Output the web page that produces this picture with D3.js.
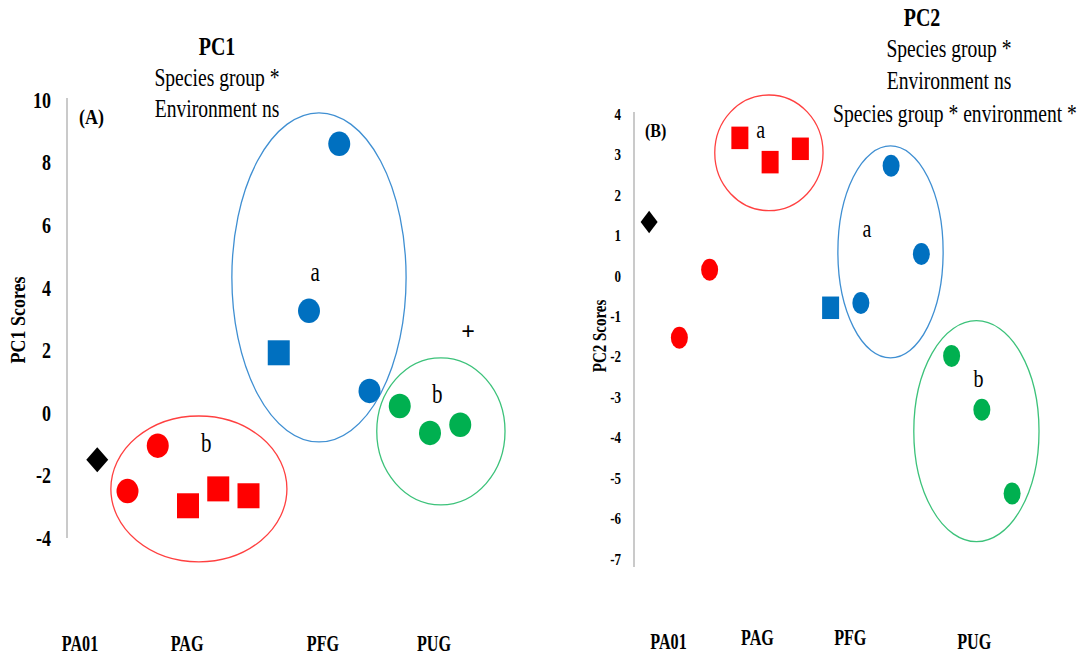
<!DOCTYPE html>
<html>
<head>
<meta charset="utf-8">
<script src="https://cdn.jsdelivr.net/npm/d3@7/dist/d3.min.js"></script>
<style>
  html, body { margin: 0; padding: 0; background: #fff; }
  svg { display: block; }
  text { font-family: "Liberation Serif", "Times New Roman", serif; fill: #000; }
</style>
</head>
<body>
<svg id="chart" width="1078" height="662"></svg>
<script>
// ---------------- data ----------------
const categories = ["PA01", "PAG", "PFG", "PUG"];
const pointIndex = [1, 2, 3, 4, 5, 6, 7, 8, 9, 10, 11, 12, 13];
const pointGroup = ["PA01", "PAG", "PAG", "PAG", "PAG", "PAG", "PFG", "PFG", "PFG", "PFG", "PUG", "PUG", "PUG"];
const pointShape = ["diamond", "circle", "circle", "square", "square", "square", "square", "circle", "circle", "circle", "circle", "circle", "circle"];
const pc1Scores = [-1.5, -2.5, -1.05, -2.97, -2.43, -2.65, 1.92, 3.26, 8.6, 0.7, 0.22, -0.64, -0.38];
const pc2Scores = [1.33, -1.53, 0.15, 3.41, 2.81, 3.14, -0.79, -0.67, 2.72, 0.54, -1.98, -3.31, -5.38];
const pc1Ticks = [10, 8, 6, 4, 2, 0, -2, -4];
const pc2Ticks = [4, 3, 2, 1, 0, -1, -2, -3, -4, -5, -6, -7];
const pc1Title = ["PC1", "Species group *", "Environment ns"];
const pc2Title = ["PC2", "Species group *", "Environment ns", "Species group * environment *"];
// group ellipses (data units): group, cx, cy, rx, ry, letter
const pc1Ellipses = [
  ["PAG", 4.36, -2.43, 2.91, 2.33, "b"],
  ["PFG", 8.33, 4.33, 2.88, 5.26, "a"],
  ["PUG", 12.36, -0.59, 2.12, 2.35, "b"]
];
const pc2Ellipses = [
  ["PAG", 4.96, 3.04, 1.79, 1.43, "a"],
  ["PFG", 8.98, 0.59, 1.74, 2.62, "a"],
  ["PUG", 11.82, -3.84, 2.07, 2.73, "b"]
];
// ---------------- style ----------------
const fillColor = { PA01: "#000000", PAG: "#ff0000", PFG: "#0070c0", PUG: "#00b050" };
const ringColor = { PAG: "#ff4040", PFG: "#3f8fd2", PUG: "#3cc27a" };

const svg = d3.select("#chart");

// text drawn with vertical stretch (the reference's type is tall and narrow)
function stretchText(g, x, y, str, opt) {
  const sx = opt.sx || 1, sy = opt.sy || 1.2;
  const rot = opt.rotate ? ` rotate(${opt.rotate})` : "";
  return g.append("text")
    .attr("transform", `translate(${x},${y})${rot} scale(${sx},${sy})`)
    .attr("text-anchor", opt.anchor || "middle")
    .attr("dy", "0.35em")
    .attr("font-weight", opt.bold ? "bold" : "normal")
    .attr("font-size", opt.size)
    .text(str);
}

function panel(cfg) {
  const x = d3.scaleLinear().domain(cfg.xDomain).range(cfg.xRange);
  const y = d3.scaleLinear().domain(cfg.yDomain).range(cfg.yRange);
  const g = svg.append("g");

  g.append("line")
    .attr("x1", x(cfg.xDomain[0])).attr("x2", x(cfg.xDomain[0]))
    .attr("y1", cfg.axisTop).attr("y2", cfg.axisBottom)
    .attr("stroke", "#bdbdbd").attr("stroke-width", 1.6);

  cfg.ticks.forEach(d => {
    stretchText(g, cfg.tickX, y(d), d, { anchor: "end", bold: true, size: cfg.tickSize, sy: 1.25 });
  });

  stretchText(g, cfg.ylabX, cfg.ylabY, cfg.ylab,
    { bold: true, size: cfg.ylabSize, rotate: -90, sx: 1, sy: 1.2 });

  stretchText(g, cfg.letterX, cfg.letterY, cfg.letter,
    { anchor: "start", bold: true, size: cfg.letterSize, sy: 1.2 });

  cfg.ellipses.forEach(e => {
    g.append("ellipse")
      .attr("cx", x(e[1])).attr("cy", y(e[2]))
      .attr("rx", Math.abs(x(e[1] + e[3]) - x(e[1])))
      .attr("ry", Math.abs(y(e[2] + e[4]) - y(e[2])))
      .attr("fill", "none")
      .attr("stroke", ringColor[e[0]])
      .attr("stroke-width", 1.3);
  });

  const w = cfg.markW, h = cfg.markH;
  pointIndex.forEach((xi, i) => {
    const px = x(xi), py = y(cfg.values[i]);
    const col = fillColor[pointGroup[i]];
    const s = pointShape[i];
    if (s === "circle") {
      g.append("ellipse").attr("cx", px).attr("cy", py)
        .attr("rx", w / 2).attr("ry", h / 2 * 0.98).attr("fill", col);
    } else if (s === "square") {
      g.append("rect").attr("x", px - w / 2).attr("y", py - h / 2)
        .attr("width", w).attr("height", h).attr("fill", col);
    } else {
      g.append("path")
        .attr("d", `M${px},${py - h / 2} L${px + w / 2},${py} L${px},${py + h / 2} L${px - w / 2},${py} Z`)
        .attr("fill", col);
    }
  });

  cfg.ellipses.forEach((e, k) => {
    const p = cfg.letterPos[k];
    stretchText(g, x(p[0]), y(p[1]), e[5], { size: cfg.grpLetterSize, sy: 1.25 });
  });

  cfg.title.forEach((t, k) => {
    stretchText(g, cfg.titleX[k], cfg.titleY[k], t,
      { bold: k === 0, size: k === 0 ? cfg.titleSize0 : cfg.titleSize, sx: k === 0 ? 1 : cfg.titleSx, sy: 1.25 });
  });

  categories.forEach((c, k) => {
    stretchText(g, x(cfg.catX[k]), cfg.catY[k], c,
      { bold: true, size: cfg.catSize, sx: 0.95, sy: 1.3 });
  });
  return { g, x, y };
}

const p1 = panel({
  xDomain: [0, 13], xRange: [67, 460.25],
  yDomain: [-4, 10], yRange: [538, 100],
  axisTop: 98, axisBottom: 538,
  ticks: pc1Ticks, tickX: 51, tickSize: 18,
  ylab: "PC1 Scores", ylabX: 17, ylabY: 320, ylabSize: 18,
  letter: "(A)", letterX: 79, letterY: 116, letterSize: 18,
  ellipses: pc1Ellipses, values: pc1Scores,
  markW: 22, markH: 25,
  letterPos: [[4.6, -0.95], [8.2, 4.5], [12.24, 0.62]], grpLetterSize: 21,
  title: pc1Title, titleX: [217, 217, 217], titleY: [46, 77, 108],
  titleSize0: 20, titleSize: 20, titleSx: 0.98,
  catX: [0.43, 3.97, 8.46, 12.13], catY: [643, 643, 643, 643], catSize: 17
});
stretchText(p1.g, p1.x(13.26), p1.y(2.6), "+", { bold: true, size: 24, sy: 1.05 });

panel({
  xDomain: [0.5, 13], xRange: [634, 1012.1],
  yDomain: [-7, 4], yRange: [559, 114],
  axisTop: 112, axisBottom: 567,
  ticks: pc2Ticks, tickX: 621, tickSize: 13,
  ylab: "PC2 Scores", ylabX: 600, ylabY: 336, ylabSize: 15,
  letter: "(B)", letterX: 645, letterY: 130, letterSize: 16,
  ellipses: pc2Ellipses, values: pc2Scores,
  markW: 17, markH: 22.5,
  letterPos: [[4.69, 3.62], [8.2, 1.18], [11.89, -2.53]], grpLetterSize: 20,
  title: pc2Title, titleX: [922, 949, 949, 955], titleY: [17, 48, 80, 113],
  titleSize0: 20, titleSize: 20, titleSx: 0.98,
  catX: [1.64, 4.58, 7.65, 11.75], catY: [641, 637, 637, 641], catSize: 17
});
</script>
</body>
</html>
